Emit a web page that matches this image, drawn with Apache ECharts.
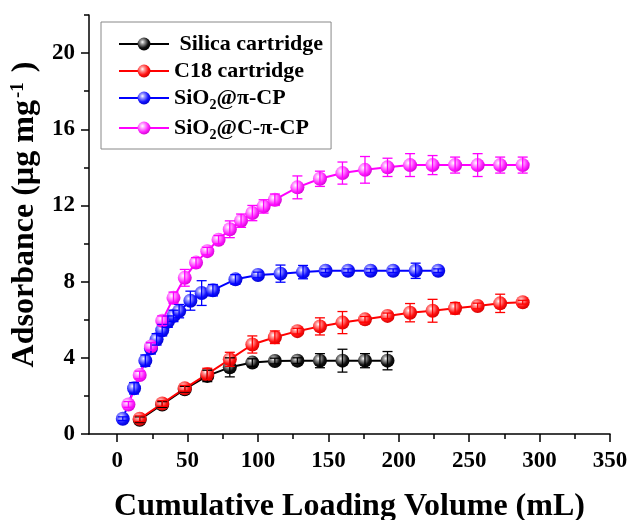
<!DOCTYPE html>
<html>
<head>
<meta charset="utf-8">
<script src="https://cdn.jsdelivr.net/npm/echarts@6/dist/echarts.min.js"></script>
<style>
html, body { margin: 0; padding: 0; background: #fff; }
#chart { width: 632px; height: 520px; }
</style>
</head>
<body>
<div id="chart"></div>
<script>
// data (volume in mL, adsorbance in µg/mg)
var seriesNames = ['Silica cartridge', 'C18 cartridge', 'SiO2@π-CP', 'SiO2@C-π-CP'];

var silicaX = [16, 32, 48, 64, 80, 96, 112, 128, 144, 160, 176, 192];
var silicaY = [0.75, 1.55, 2.35, 3.05, 3.5, 3.75, 3.83, 3.85, 3.85, 3.85, 3.85, 3.85];
var silicaErr = [0.15, 0.15, 0.15, 0.3, 0.5, 0.2, 0.15, 0.15, 0.37, 0.6, 0.37, 0.48];

var c18X = [16, 32, 48, 64, 80, 96, 112, 128, 144, 160, 176, 192, 208, 224, 240, 256, 272, 288];
var c18Y = [0.8, 1.6, 2.4, 3.15, 3.92, 4.7, 5.08, 5.4, 5.65, 5.85, 6.02, 6.2, 6.37, 6.47, 6.6, 6.72, 6.86, 6.92];
var c18Err = [0.15, 0.15, 0.15, 0.3, 0.37, 0.45, 0.33, 0.15, 0.45, 0.58, 0.15, 0.15, 0.48, 0.6, 0.3, 0.15, 0.48, 0.1];

var piX = [4, 12, 20, 24, 28, 32, 36, 40, 44, 52, 60, 68, 84, 100, 116, 132, 148, 164, 180, 196, 212, 228];
var piY = [0.8, 2.4, 3.85, 4.5, 4.97, 5.45, 5.9, 6.2, 6.45, 7.0, 7.4, 7.55, 8.12, 8.35, 8.42, 8.5, 8.57, 8.57, 8.57, 8.57, 8.57, 8.57];
var piErr = [0.1, 0.3, 0.3, 0.3, 0.3, 0.3, 0.3, 0.3, 0.35, 0.5, 0.65, 0.3, 0.25, 0.15, 0.45, 0.35, 0.1, 0.1, 0.1, 0.1, 0.4, 0.1];

var cpiX = [8, 16, 24, 32, 40, 48, 56, 64, 72, 80, 88, 96, 104, 112, 128, 144, 160, 176, 192, 208, 224, 240, 256, 272, 288];
var cpiY = [1.55, 3.1, 4.6, 5.95, 7.15, 8.2, 9.0, 9.6, 10.2, 10.75, 11.2, 11.6, 11.95, 12.3, 12.95, 13.4, 13.7, 13.87, 14.0, 14.12, 14.12, 14.12, 14.12, 14.12, 14.12];
var cpiErr = [0.15, 0.2, 0.2, 0.25, 0.3, 0.44, 0.26, 0.2, 0.22, 0.44, 0.35, 0.4, 0.35, 0.3, 0.6, 0.4, 0.58, 0.7, 0.48, 0.6, 0.5, 0.42, 0.6, 0.42, 0.42];

var xTicks = [0, 50, 100, 150, 200, 250, 300, 350];
var xMinorTicks = [25, 75, 125, 175, 225, 275, 325];
var yTicks = [0, 4, 8, 12, 16, 20];
var yMinorTicks = [2, 6, 10, 14, 18, 22];

var FONT = '"Liberation Serif", "Times New Roman", serif';

function ball(light, base, dark) {
    return {
        type: 'radial', x: 0.38, y: 0.35, r: 0.7,
        colorStops: [
            { offset: 0, color: '#ffffff' },
            { offset: 0.22, color: light },
            { offset: 0.65, color: base },
            { offset: 1, color: dark }
        ]
    };
}

function pairs(xs, ys) {
    return xs.map(function (x, i) { return [x, ys[i]]; });
}

function lineSeries(name, xs, ys, color, fill) {
    return {
        name: name,
        type: 'line',
        data: pairs(xs, ys),
        symbol: 'circle',
        symbolSize: 14,
        showSymbol: true,
        lineStyle: { color: color, width: 2 },
        itemStyle: { color: fill, borderWidth: 0 },
        z: 2
    };
}

// error bars on top of the balls (drawn with the axis scales)
function errSeries(name, xs, ys, errs, color) {
    return {
        name: name + ' err',
        type: 'custom',
        silent: true,
        z: 4,
        encode: { x: 0, y: [1, 2] },
        data: xs.map(function (x, i) { return [x, ys[i] - errs[i], ys[i] + errs[i]]; }),
        renderItem: function (params, api) {
            var lo = api.coord([api.value(0), api.value(1)]);
            var hi = api.coord([api.value(0), api.value(2)]);
            var w = 5;
            var st = { stroke: color, lineWidth: 1.3 };
            return {
                type: 'group',
                children: [
                    { type: 'line', shape: { x1: lo[0], y1: lo[1], x2: hi[0], y2: hi[1] }, style: st },
                    { type: 'line', shape: { x1: lo[0] - w, y1: lo[1], x2: lo[0] + w, y2: lo[1] }, style: st },
                    { type: 'line', shape: { x1: hi[0] - w, y1: hi[1], x2: hi[0] + w, y2: hi[1] }, style: st }
                ]
            };
        }
    };
}

var axisLineStyle = { color: '#000', width: 1.5 };

var myChart = echarts.init(document.getElementById('chart'));

var option = {
    animation: false,
    backgroundColor: '#fff',
    grid: { left: 89, right: 22, top: 15, bottom: 86, outerBoundsMode: 'none' },
    legend: {
        orient: 'vertical',
        left: 101,
        top: 22,
        data: seriesNames,
        itemWidth: 50,
        itemHeight: 16,
        itemGap: 5,
        padding: [11, 8, 7, 17],
        borderColor: '#888',
        borderWidth: 1,
        formatter: function (name) {
            if (name.indexOf('SiO2') === 0) {
                return '{a|SiO}{s|2}{a|' + name.slice(4) + '}';
            }
            if (name === 'Silica cartridge') return '{a| ' + name + '}';
            return '{a|' + name + '}';
        },
        textStyle: {
            fontFamily: FONT, fontWeight: 'bold', fontSize: 22, color: '#000',
            rich: {
                a: { fontFamily: FONT, fontWeight: 'bold', fontSize: 22, color: '#000' },
                s: { fontFamily: FONT, fontWeight: 'bold', fontSize: 14, color: '#000', padding: [14, 0, 0, 0], verticalAlign: 'top' }
            }
        }
    },
    xAxis: [
        {
            type: 'value',
            min: -20,
            max: 350,
            name: 'Cumulative Loading Volume (mL)',
            nameLocation: 'middle',
            nameGap: 57,
            nameTextStyle: { fontFamily: FONT, fontWeight: 'bold', fontSize: 32, color: '#000' },
            axisLine: { show: true, onZero: false, lineStyle: axisLineStyle },
            axisTick: { show: true, length: 8, customValues: xTicks, lineStyle: axisLineStyle },
            axisLabel: { customValues: xTicks, margin: 16, fontFamily: FONT, fontWeight: 'bold', fontSize: 23, color: '#000' },
            splitLine: { show: false }
        },
        {
            type: 'value',
            min: -20,
            max: 350,
            position: 'bottom',
            axisLine: { show: false, onZero: false },
            axisTick: { show: true, length: 5, customValues: xMinorTicks, lineStyle: axisLineStyle },
            axisLabel: { show: false },
            splitLine: { show: false }
        }
    ],
    yAxis: [
        {
            type: 'value',
            min: 0,
            max: 22,
            name: '{a|Adsorbance (µg mg}{b|-1}{c|)}',
            nameLocation: 'middle',
            nameGap: 48,
            nameTextStyle: {
                fontFamily: FONT, fontWeight: 'bold', fontSize: 32, color: '#000',
                padding: [0, 0, 0, 20],
                rich: {
                    a: { fontFamily: FONT, fontWeight: 'bold', fontSize: 32, color: '#000' },
                    b: { fontFamily: FONT, fontWeight: 'bold', fontSize: 19, color: '#000', verticalAlign: 'top', padding: [0, 0, 0, 2] },
                    c: { fontFamily: FONT, fontWeight: 'bold', fontSize: 32, color: '#000', padding: [0, 0, 0, 10] }
                }
            },
            axisLine: { show: true, onZero: false, lineStyle: axisLineStyle },
            axisTick: { show: true, length: 8, customValues: yTicks, lineStyle: axisLineStyle },
            axisLabel: { customValues: yTicks, margin: 14, fontFamily: FONT, fontWeight: 'bold', fontSize: 23, color: '#000' },
            splitLine: { show: false }
        },
        {
            type: 'value',
            min: 0,
            max: 22,
            position: 'left',
            offset: 0,
            axisLine: { show: false, onZero: false },
            axisTick: { show: true, length: 5, customValues: yMinorTicks, lineStyle: axisLineStyle },
            axisLabel: { show: false },
            splitLine: { show: false }
        }
    ],
    series: [
        lineSeries(seriesNames[0], silicaX, silicaY, '#000000', ball('#a0a0a0', '#111111', '#000000')),
        lineSeries(seriesNames[1], c18X, c18Y, '#ff0000', ball('#ff9d9d', '#ff1212', '#cc0000')),
        lineSeries(seriesNames[2], piX, piY, '#0000ff', ball('#a0a0ff', '#1414ff', '#0000c8')),
        lineSeries(seriesNames[3], cpiX, cpiY, '#ff00ff', ball('#ffb4ff', '#ff22ff', '#cc00cc')),
        errSeries(seriesNames[0], silicaX, silicaY, silicaErr, '#000000'),
        errSeries(seriesNames[1], c18X, c18Y, c18Err, '#ff0000'),
        errSeries(seriesNames[2], piX, piY, piErr, '#0000ff'),
        errSeries(seriesNames[3], cpiX, cpiY, cpiErr, '#ff00ff')
    ]
};
myChart.setOption(option);
</script>
</body>
</html>
